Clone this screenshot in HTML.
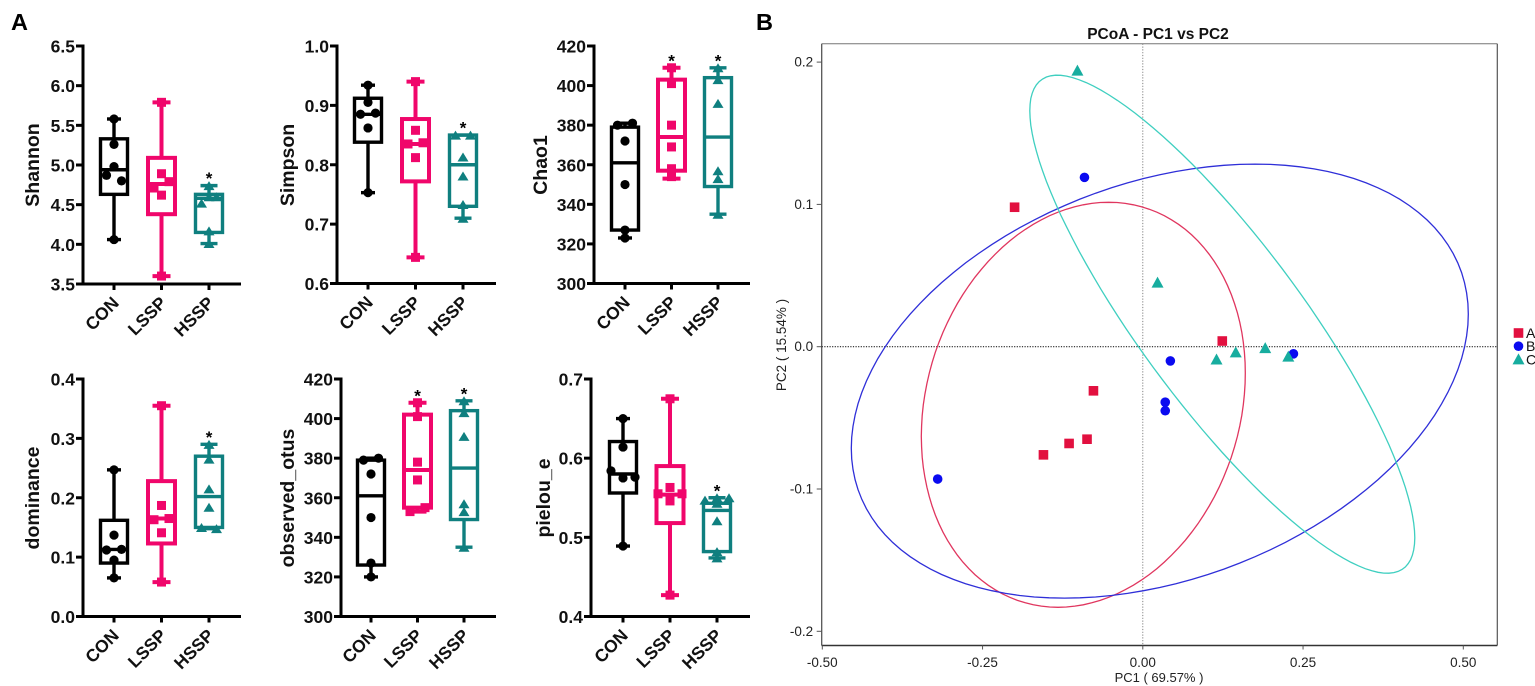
<!DOCTYPE html>
<html lang="en">
<head>
<meta charset="utf-8">
<title>Alpha diversity box plots and PCoA</title>
<style>
html,body{margin:0;padding:0;background:#fff;width:1535px;height:686px;overflow:hidden}
svg{display:block;font-family:"Liberation Sans",Arial,sans-serif;filter:blur(0.35px)}
</style>
</head>
<body>
<svg id="chart" xmlns="http://www.w3.org/2000/svg" width="1535" height="686" viewBox="0 0 1535 686">
  <rect x="0" y="0" width="1535" height="686" fill="#ffffff"/>
  <text x="11" y="30" font-size="23.5" font-weight="bold" fill="#000">A</text>
  <text x="756" y="30" font-size="23.5" font-weight="bold" fill="#000">B</text>
</svg>
<script>
/* ---------- Panel A data ---------- */
const categories = ['CON', 'LSSP', 'HSSP'];

/* five-number summaries: [min, q1, median, q3, max] */
const shannonTicks = ['3.5', '4.0', '4.5', '5.0', '5.5', '6.0', '6.5'];
const shannonBoxes = [[4.06, 4.63, 4.94, 5.33, 5.58], [3.6, 4.38, 4.76, 5.09, 5.79], [4.01, 4.15, 4.58, 4.63, 4.74]];
const shannonPoints = [[5.58, 5.26, 4.98, 4.87, 4.80, 4.06], [5.79, 4.89, 4.79, 4.71, 4.62, 3.6], [4.74, 4.60, 4.60, 4.52, 4.17, 4.01]];
const shannonSwarm = [[0, 0, 0, -1, 1, 0], [0, 0, 1, -1, 0, 0], [0, 1, 0, -1, 0, 0]];
const shannonStars = [0, 0, 1];

const simpsonTicks = ['0.6', '0.7', '0.8', '0.9', '1.0'];
const simpsonBoxes = [[0.753, 0.838, 0.885, 0.912, 0.934], [0.644, 0.772, 0.835, 0.877, 0.94], [0.71, 0.73, 0.80, 0.85, 0.85]];
const simpsonPoints = [[0.934, 0.905, 0.885, 0.887, 0.862, 0.753], [0.94, 0.858, 0.835, 0.837, 0.812, 0.644], [0.85, 0.85, 0.813, 0.781, 0.733, 0.71]];
const simpsonSwarm = [[0, 0, -1, 1, 0, 0], [0, 0, -1, 1, 0, 0], [-1, 1, 0, 0, 0, 0]];
const simpsonStars = [0, 0, 1];

const chaoTicks = ['300', '320', '340', '360', '380', '400', '420'];
const chaoBoxes = [[323, 327, 361, 379, 381], [353, 357, 374, 403, 409], [335, 349, 374, 404, 409]];
const chaoPoints = [[381, 380, 372, 350, 327, 323], [409, 401, 380, 369, 358, 354], [409, 403, 391, 357, 353, 335]];
const chaoSwarm = [[1, -1, 0, 0, 0, 0], [0, 0, 0, 0, 0, 0], [0, 0, 0, 0, 0, 0]];
const chaoStars = [0, 1, 1];

const dominanceTicks = ['0.0', '0.1', '0.2', '0.3', '0.4'];
const dominanceBoxes = [[0.065, 0.09, 0.113, 0.162, 0.247], [0.058, 0.123, 0.165, 0.228, 0.355], [0.148, 0.15, 0.202, 0.27, 0.29]];
const dominancePoints = [[0.247, 0.137, 0.112, 0.113, 0.095, 0.065], [0.355, 0.187, 0.163, 0.165, 0.141, 0.058], [0.29, 0.265, 0.215, 0.184, 0.15, 0.148]];
const dominanceSwarm = [[0, 0, -1, 1, 0, 0], [0, 0, -1, 1, 0, 0], [0, 0, 0, 0, -1, 1]];
const dominanceStars = [0, 0, 1];

const otusTicks = ['300', '320', '340', '360', '380', '400', '420'];
const otusBoxes = [[320, 326, 361, 379, 380], [353, 355, 374, 402, 408], [335, 349, 375, 404, 409]];
const otusPoints = [[380, 379, 372, 350, 327, 320], [408, 401, 378, 369, 353, 355], [409, 403, 391, 357, 353, 335]];
const otusSwarm = [[1, -1, 0, 0, 0, 0], [0, 0, 0, 0, -1, 1], [0, 0, 0, 0, 0, 0]];
const otusStars = [0, 1, 1];

const pielouTicks = ['0.4', '0.5', '0.6', '0.7'];
const pielouBoxes = [[0.489, 0.556, 0.58, 0.621, 0.65], [0.427, 0.518, 0.554, 0.59, 0.675], [0.474, 0.482, 0.534, 0.543, 0.55]];
const pielouPoints = [[0.65, 0.614, 0.584, 0.575, 0.576, 0.489], [0.675, 0.563, 0.555, 0.555, 0.546, 0.427], [0.55, 0.547, 0.55, 0.543, 0.521, 0.482, 0.474]];
const pielouSwarm = [[0, 0, -1.6, 0, 1.6, 0], [0, 0, -1.6, 1.6, 0, 0], [0, -1.6, 1.6, 0, 0, 0, 0]];
const pielouStars = [0, 0, 1];

/* ---------- Panel B data ---------- */
const pcoaXTicks = ['-0.50', '-0.25', '0.00', '0.25', '0.50'];
const pcoaYTicks = ['-0.2', '-0.1', '0.0', '0.1', '0.2'];
const groupNames = ['A', 'B', 'C'];
const groupAX = [-0.2, 0.124, -0.077, -0.087, -0.115, -0.155];
const groupAY = [0.098, 0.004, -0.031, -0.065, -0.068, -0.076];
const groupBX = [-0.091, 0.043, 0.035, 0.035, 0.235, -0.32];
const groupBY = [0.119, -0.010, -0.039, -0.045, -0.005, -0.093];
const groupCX = [-0.102, 0.023, 0.115, 0.145, 0.191, 0.227];
const groupCY = [0.194, 0.045, -0.009, -0.004, -0.001, -0.007];
/* ellipse: [centre x, centre y, half-extent x, half-extent y, phase in degrees] */
const ellipseA = [-0.0928, -0.0408, 0.2527, 0.1423, -9];
const ellipseB = [0.0265, -0.0242, 0.4813, 0.1525, -18];
const ellipseC = [0.124, 0.0158, 0.3003, 0.175, 59];

/* ---------- Drawing ---------- */
const svg = document.getElementById('chart');
const NS = 'http://www.w3.org/2000/svg';

function make(tag, attrs, parent, text) {
  const el = document.createElementNS(NS, tag);
  for (const k in attrs) el.setAttribute(k, attrs[k]);
  if (text !== undefined) el.textContent = text;
  (parent || svg).appendChild(el);
  return el;
}

const boxColors = ['#000000', '#f0066b', '#0f7f7f'];
const boxStroke = [3.4, 4, 3.4];
const capWidth = [14, 18, 17];

function drawMarker(kind, x, y, color, size, parent) {
  if (kind === 0) return make('circle', {cx: x, cy: y, r: size}, parent);
  if (kind === 1) return make('rect', {x: x - size, y: y - size, width: size * 2, height: size * 2, fill: color}, parent);
  return make('polygon', {points: (x - size - 1) + ',' + (y + size) + ' ' + (x + size + 1) + ',' + (y + size) + ' ' + x + ',' + (y - size)}, parent);
}

function drawBoxPanel(p) {
  const g = make('g', {});
  
  
  const lo = parseFloat(p.ticks[0]);
  const hi = parseFloat(p.ticks[p.ticks.length - 1]);
  const yScale = v => p.bottom - (v - lo) / (hi - lo) * (p.bottom - p.top);
  const xScale = i => p.x0 + i * p.step;

  const yAxis = make('line', {x1: p.axisX, x2: p.axisX, y1: p.top - 1.5, y2: p.bottom + 1.5, stroke: '#000', 'stroke-width': 3}, g);
  
  
  const xAxis = make('line', {x1: p.axisX - 7, x2: p.right, y1: p.bottom, y2: p.bottom, stroke: '#000', 'stroke-width': 3}, g);
  
  

  p.ticks.forEach(t => {
    const y = yScale(parseFloat(t));
    make('line', {x1: p.axisX - 7, x2: p.axisX, y1: y, y2: y, stroke: '#000', 'stroke-width': 3}, g);
    const lab = make('text', {x: p.axisX - 8, y: y + 6.5, 'text-anchor': 'end', 'font-size': 17.5, 'font-weight': 'bold', fill: '#111'}, g, t);
    
    
  });

  const title = make('text', {transform: 'translate(' + (p.titleX + 7) + ',' + p.titleY + ') rotate(-90)', 'text-anchor': 'middle', 'font-size': 19.5, 'font-weight': 'bold', fill: '#111'}, g, p.title);
  
  

  categories.forEach((c, i) => {
    const x = xScale(i);
    make('line', {x1: x, x2: x, y1: p.bottom, y2: p.bottom + 6, stroke: '#000', 'stroke-width': 3}, g);
    const lab = make('text', {transform: 'translate(' + (x + 6) + ',' + (p.bottom + 20) + ') rotate(-45)', 'text-anchor': 'end', 'font-size': 17.5, 'font-weight': 'bold', fill: '#111'}, g, c);
    
    

    const color = boxColors[i];
    const sw = boxStroke[i];
    const s = p.boxes[i];
    const group = make('g', {fill: color, stroke: 'none'}, g);
    
    

    const cw = capWidth[i] / 2;
    make('line', {x1: x, x2: x, y1: yScale(s[0]), y2: yScale(s[1]), stroke: color, 'stroke-width': sw}, group);
    make('line', {x1: x, x2: x, y1: yScale(s[3]), y2: yScale(s[4]), stroke: color, 'stroke-width': sw}, group);
    make('line', {x1: x - cw, x2: x + cw, y1: yScale(s[0]), y2: yScale(s[0]), stroke: color, 'stroke-width': sw}, group);
    make('line', {x1: x - cw, x2: x + cw, y1: yScale(s[4]), y2: yScale(s[4]), stroke: color, 'stroke-width': sw}, group);
    make('rect', {x: x - 13.5, y: yScale(s[3]), width: 27, height: yScale(s[1]) - yScale(s[3]), fill: 'none', stroke: color, 'stroke-width': sw}, group);
    make('line', {x1: x - 13.5, x2: x + 13.5, y1: yScale(s[2]), y2: yScale(s[2]), stroke: color, 'stroke-width': sw}, group);

    p.points[i].forEach((v, k) => {
      const m = drawMarker(i, x + p.swarm[i][k] * 7.5, yScale(v), color, i === 0 ? 4.6 : 4.5, group);
      
      
    });

    if (p.stars[i]) {
      const star = make('text', {x: x, y: yScale(s[4]) - 1.5, 'text-anchor': 'middle', 'font-size': 17, 'font-weight': 'bold', fill: '#000'}, g, '*');
      
      
    }
  });
}

drawBoxPanel({name: 'shannon', title: 'Shannon', ticks: shannonTicks, boxes: shannonBoxes, points: shannonPoints, swarm: shannonSwarm, stars: shannonStars, axisX: 83, top: 46, bottom: 284, x0: 114, step: 47.5, right: 241, titleX: 32, titleY: 165});
drawBoxPanel({name: 'simpson', title: 'Simpson', ticks: simpsonTicks, boxes: simpsonBoxes, points: simpsonPoints, swarm: simpsonSwarm, stars: simpsonStars, axisX: 337, top: 46, bottom: 283.5, x0: 368, step: 47.5, right: 496, titleX: 287, titleY: 165});
drawBoxPanel({name: 'chao1', title: 'Chao1', ticks: chaoTicks, boxes: chaoBoxes, points: chaoPoints, swarm: chaoSwarm, stars: chaoStars, axisX: 594, top: 46, bottom: 283.5, x0: 625, step: 46.5, right: 750, titleX: 540, titleY: 165});
drawBoxPanel({name: 'dominance', title: 'dominance', ticks: dominanceTicks, boxes: dominanceBoxes, points: dominancePoints, swarm: dominanceSwarm, stars: dominanceStars, axisX: 83, top: 379, bottom: 616.5, x0: 114, step: 47.5, right: 241, titleX: 32, titleY: 498});
drawBoxPanel({name: 'observed-otus', title: 'observed_otus', ticks: otusTicks, boxes: otusBoxes, points: otusPoints, swarm: otusSwarm, stars: otusStars, axisX: 341, top: 379, bottom: 616.5, x0: 371, step: 46.5, right: 496, titleX: 287, titleY: 498});
drawBoxPanel({name: 'pielou', title: 'pielou_e', ticks: pielouTicks, boxes: pielouBoxes, points: pielouPoints, swarm: pielouSwarm, stars: pielouStars, axisX: 591, top: 379, bottom: 616.5, x0: 623, step: 47, right: 750, titleX: 543, titleY: 498});

/* ---------- PCoA ---------- */
(function () {
  const L = 821.7, R = 1497.3, T = 43.7, B = 645.5;
  const pxX = v => 1142.8 + v * 641;
  const pxY = v => 346.7 - v * 1423;
  const g = make('g', {});
  
  

  const frameTop = make('line', {x1: L, x2: R, y1: T, y2: T, stroke: '#777', 'stroke-width': 1}, g);
  
  
  const frameRight = make('line', {x1: R, x2: R, y1: T, y2: B, stroke: '#555', 'stroke-width': 1.2}, g);
  
  
  const frameLeft = make('line', {x1: L, x2: L, y1: T, y2: B, stroke: '#555', 'stroke-width': 1.3}, g);
  
  
  const frameBottom = make('line', {x1: L, x2: R, y1: B, y2: B, stroke: '#333', 'stroke-width': 1.6}, g);
  
  

  const zeroH = make('line', {x1: L, x2: R, y1: pxY(0), y2: pxY(0), stroke: '#222', 'stroke-width': 1.1, 'stroke-dasharray': '1.2 1.4'}, g);
  
  
  const zeroV = make('line', {x1: pxX(0), x2: pxX(0), y1: T, y2: B, stroke: '#777', 'stroke-width': 0.9, 'stroke-dasharray': '1.2 1.6'}, g);
  
  

  pcoaXTicks.forEach(t => {
    const x = pxX(parseFloat(t));
    make('line', {x1: x, x2: x, y1: B, y2: B + 4, stroke: '#555', 'stroke-width': 1}, g);
    const lab = make('text', {x: x, y: B + 21.5, 'text-anchor': 'middle', 'font-size': 13.5, fill: '#222'}, g, t);
    
    
  });
  pcoaYTicks.forEach(t => {
    const y = pxY(parseFloat(t));
    make('line', {x1: L - 5, x2: L, y1: y, y2: y, stroke: '#555', 'stroke-width': 1}, g);
    const lab = make('text', {x: L - 8.5, y: y + 4.5, 'text-anchor': 'end', 'font-size': 13.5, fill: '#222'}, g, t);
    
    
  });

  const title = make('text', {x: 1158, y: 39, 'text-anchor': 'middle', 'font-size': 15.5, 'font-weight': 'bold', fill: '#111'}, g, 'PCoA - PC1 vs PC2');
  
  
  const xt = make('text', {x: 1159, y: 682, 'text-anchor': 'middle', 'font-size': 13, fill: '#222'}, g, 'PC1 ( 69.57% )');
  
  
  const yt = make('text', {transform: 'translate(786,345) rotate(-90)', 'text-anchor': 'middle', 'font-size': 13.5, fill: '#222'}, g, 'PC2 ( 15.54% )');
  
  

  const ellipseColors = ['#e0365f', '#2f2fd8', '#3fcfc0'];
  [ellipseA, ellipseB, ellipseC].forEach((e, idx) => {
    let d = '';
    for (let a = 0; a <= 360; a += 3) {
      const t = a * Math.PI / 180;
      const vx = e[0] + e[2] * Math.cos(t);
      const vy = e[1] - e[3] * Math.sin(t + e[4] * Math.PI / 180);
      d += (a === 0 ? 'M' : 'L') + pxX(vx).toFixed(1) + ' ' + pxY(vy).toFixed(1);
    }
    const path = make('path', {d: d + 'Z', fill: 'none', stroke: ellipseColors[idx], 'stroke-width': 1.3}, g);
    
    
  });

  const markerColors = ['#e2103f', '#0a0af0', '#17ad9f'];
  const seriesX = [groupAX, groupBX, groupCX];
  const seriesY = [groupAY, groupBY, groupCY];
  function pcoaMarker(kind, x, y, parent) {
    const color = markerColors[kind];
    if (kind === 0) return make('rect', {x: x - 4.8, y: y - 4.8, width: 9.6, height: 9.6, fill: color}, parent);
    if (kind === 1) return make('circle', {cx: x, cy: y, r: 4.8, fill: color}, parent);
    return make('polygon', {points: (x - 6) + ',' + (y + 5) + ' ' + (x + 6) + ',' + (y + 5) + ' ' + x + ',' + (y - 6), fill: color}, parent);
  }
  seriesX.forEach((xs, s) => {
    xs.forEach((v, i) => {
      const m = pcoaMarker(s, pxX(v), pxY(seriesY[s][i]), g);
      
      
    });
  });

  groupNames.forEach((n, i) => {
    const y = 333 + i * 13.2;
    const sw = pcoaMarker(i, 1518.5, y, g);
    
    
    const lab = make('text', {x: 1526, y: y + 5, 'font-size': 14, fill: '#111'}, g, n);
    
    
  });
})();
</script>
</body>
</html>
